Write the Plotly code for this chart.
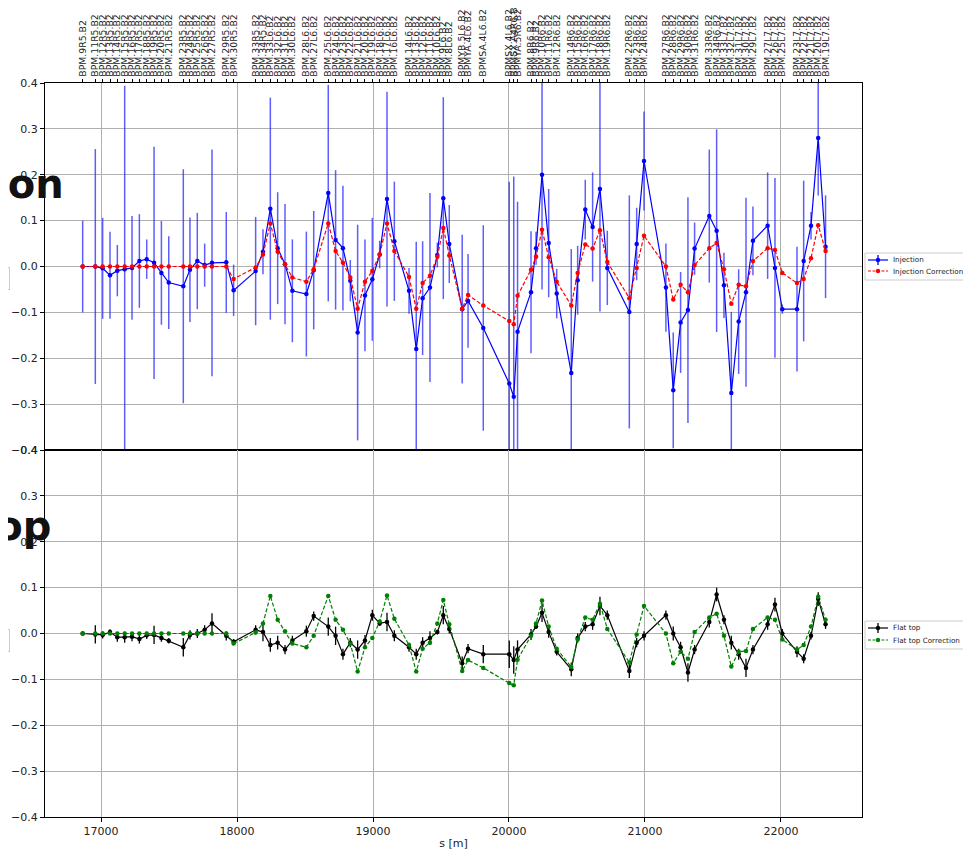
import plotly.graph_objects as go

# ---------------- data ----------------
s_pos = [16865, 16958, 17012, 17066, 17120, 17174, 17228, 17282, 17336, 17390, 17444, 17498,
         17605, 17654, 17708, 17762, 17816, 17921, 17975,
         18137, 18191, 18245, 18299, 18353, 18407, 18510, 18564,
         18671, 18725, 18779, 18833, 18887, 18941, 18995, 19049, 19103, 19157,
         19265, 19318, 19365, 19419, 19473, 19517, 19561,
         19656, 19699, 19811, 20002, 20035, 20063,
         20162, 20199, 20243, 20292, 20351,
         20458, 20505, 20561, 20615, 20669, 20723,
         20885, 20939, 20993,
         21154, 21208, 21262, 21316, 21365,
         21473, 21527, 21581, 21635, 21689, 21743, 21794,
         21902, 21956, 22010,
         22118, 22167, 22221, 22274, 22328]

bpm_names = ["BPM.9R5.B2", "BPM.11R5.B2", "BPM.12R5.B2", "BPM.13R5.B2", "BPM.14R5.B2", "BPM.15R5.B2",
             "BPM.16R5.B2", "BPM.17R5.B2", "BPM.18R5.B2", "BPM.19R5.B2", "BPM.20R5.B2", "BPM.21R5.B2",
             "BPM.23R5.B2", "BPM.24R5.B2", "BPM.25R5.B2", "BPM.26R5.B2", "BPM.27R5.B2",
             "BPM.29R5.B2", "BPM.30R5.B2",
             "BPM.33R5.B2", "BPM.34R5.B2", "BPM.33L6.B2", "BPM.32L6.B2", "BPM.31L6.B2", "BPM.30L6.B2",
             "BPM.28L6.B2", "BPM.27L6.B2",
             "BPM.25L6.B2", "BPM.24L6.B2", "BPM.23L6.B2", "BPM.22L6.B2", "BPM.21L6.B2", "BPM.20L6.B2",
             "BPM.19L6.B2", "BPM.18L6.B2", "BPM.17L6.B2", "BPM.16L6.B2",
             "BPM.14L6.B2", "BPM.13L6.B2", "BPM.12L6.B2", "BPM.11L6.B2", "BPM.10L6.B2", "BPM.9L6.B2",
             "BPM.8L6.B2",
             "BPMYB.5L6.B2", "BPMYA.4L6.B2", "BPMSA.4L6.B2", "BPMSX.4L6.B2", "BPMSX.A4R6.B2", "BPMYA.5R6.B2",
             "BPM.8R6.B2", "BPM.9R6.B2", "BPM.10R6.B2", "BPM.11R6.B2", "BPM.12R6.B2",
             "BPM.14R6.B2", "BPM.15R6.B2", "BPM.16R6.B2", "BPM.17R6.B2", "BPM.18R6.B2", "BPM.19R6.B2",
             "BPM.22R6.B2", "BPM.23R6.B2", "BPM.24R6.B2",
             "BPM.27R6.B2", "BPM.28R6.B2", "BPM.29R6.B2", "BPM.30R6.B2", "BPM.31R6.B2",
             "BPM.33R6.B2", "BPM.34R6.B2", "BPM.33L7.B2", "BPM.32L7.B2", "BPM.31L7.B2", "BPM.30L7.B2",
             "BPM.29L7.B2",
             "BPM.27L7.B2", "BPM.26L7.B2", "BPM.25L7.B2",
             "BPM.23L7.B2", "BPM.22L7.B2", "BPM.21L7.B2", "BPM.20L7.B2", "BPM.19L7.B2"]

injection = [0.0, 0.0, -0.004, -0.019, -0.009, -0.006, -0.003, 0.012, 0.016, 0.008, -0.014, -0.035,
             -0.043, -0.007, 0.012, 0.003, 0.008, 0.009, -0.052,
             -0.010, 0.032, 0.126, 0.040, 0.005, -0.053, -0.060, -0.008,
             0.160, 0.058, 0.040, -0.031, -0.144, -0.063, -0.028, 0.026, 0.147, 0.055,
             -0.053, -0.180, -0.069, -0.046, 0.025, 0.149, 0.049,
             -0.093, -0.075, -0.134, -0.255, -0.284, -0.142,
             -0.056, 0.040, 0.200, 0.051, -0.059,
             -0.232, -0.030, 0.124, 0.086, 0.169, -0.003,
             -0.099, 0.049, 0.230,
             -0.046, -0.270, -0.122, -0.095, 0.039,
             0.110, 0.078, -0.041, -0.276, -0.120, -0.056, 0.056,
             0.089, -0.003, -0.093,
             -0.093, 0.012, 0.089, 0.280, 0.043]

injection_err = [0.100, 0.256, 0.110, 0.095, 0.056, 0.400, 0.113, 0.102, 0.043, 0.253, 0.113, 0.101,
                 0.255, 0.114, 0.105, 0.047, 0.247, 0.110, 0.056,
                 0.118, 0.049, 0.242, 0.122, 0.131, 0.112, 0.136, 0.129,
                 0.236, 0.152, 0.136, 0.045, 0.235, 0.122, 0.134, 0.030, 0.234, 0.130,
                 0.050, 0.234, 0.124, 0.206, 0.027, 0.220, 0.085,
                 0.162, 0.102, 0.224, 0.440, 0.480, 0.283,
                 0.133, 0.036, 0.250, 0.118, 0.054,
                 0.270, 0.075, 0.065, 0.119, 0.267, 0.081,
                 0.254, 0.079, 0.108,
                 0.096, 0.126, 0.110, 0.246, 0.057,
                 0.145, 0.221, 0.071, 0.177, 0.114, 0.206, 0.075,
                 0.116, 0.196, 0.010,
                 0.136, 0.175, 0.030, 0.125, 0.112]

injection_corr = [0.0, 0.0, 0.0, 0.0, 0.0, 0.0, 0.0, 0.0, 0.0, 0.0, 0.0, 0.0,
                  0.0, 0.0, 0.0, 0.0, 0.0, 0.0, -0.027,
                  -0.002, 0.026, 0.094, 0.032, 0.005, -0.024, -0.033, -0.006,
                  0.094, 0.034, 0.008, -0.024, -0.092, -0.033, -0.010, 0.026, 0.094, 0.034,
                  -0.023, -0.092, -0.036, -0.020, 0.021, 0.084, 0.024,
                  -0.092, -0.062, -0.085, -0.119, -0.126, -0.064,
                  -0.007, 0.021, 0.080, 0.020, -0.033,
                  -0.085, -0.014, 0.048, 0.039, 0.079, 0.010,
                  -0.069, -0.003, 0.067,
                  0.000, -0.072, -0.040, -0.056, 0.003,
                  0.040, 0.051, -0.006, -0.081, -0.040, -0.043, 0.012,
                  0.040, 0.036, -0.014,
                  -0.036, -0.027, 0.018, 0.090, 0.034]

flattop = [0.000, -0.002, -0.003, 0.003, -0.008, -0.008, -0.007, -0.012, -0.004, -0.003, -0.010, -0.016,
           -0.030, -0.003, 0.000, 0.008, 0.022, -0.005, -0.018,
           0.008, 0.003, -0.025, -0.020, -0.035, -0.015, 0.005, 0.038,
           0.015, -0.005, -0.045, -0.020, -0.035, -0.015, 0.040, 0.022, 0.025, -0.005,
           -0.030, -0.045, -0.020, -0.010, 0.003, 0.040, 0.010,
           -0.065, -0.033, -0.045, -0.045, -0.058, -0.035,
           -0.002, 0.015, 0.045, 0.003, -0.040,
           -0.078, -0.010, 0.015, 0.020, 0.060, 0.040,
           -0.082, -0.020, -0.005,
           0.040, 0.000, -0.030, -0.085, -0.035,
           0.025, 0.085, 0.030, -0.020, -0.045, -0.075, -0.035,
           0.020, 0.063, 0.000,
           -0.040, -0.055, -0.005, 0.075, 0.020]

flattop_err = [0.000, 0.020, 0.008, 0.006, 0.010, 0.012, 0.010, 0.010, 0.008, 0.020, 0.008, 0.006,
               0.020, 0.010, 0.010, 0.010, 0.022, 0.010, 0.006,
               0.010, 0.020, 0.015, 0.015, 0.010, 0.010, 0.012, 0.010,
               0.020, 0.020, 0.012, 0.010, 0.020, 0.012, 0.012, 0.005, 0.020, 0.012,
               0.010, 0.012, 0.012, 0.015, 0.005, 0.020, 0.010,
               0.015, 0.010, 0.020, 0.030, 0.030, 0.020,
               0.012, 0.005, 0.020, 0.012, 0.008,
               0.015, 0.010, 0.010, 0.012, 0.020, 0.010,
               0.015, 0.010, 0.010,
               0.010, 0.015, 0.012, 0.020, 0.010,
               0.012, 0.015, 0.010, 0.015, 0.012, 0.020, 0.010,
               0.012, 0.015, 0.010,
               0.012, 0.010, 0.008, 0.015, 0.010]

flattop_corr = [0.0, 0.0, 0.0, 0.0, 0.0, 0.0, 0.0, 0.0, 0.0, 0.0, 0.0, 0.0,
                0.0, 0.0, 0.0, 0.0, 0.0, 0.0, -0.022,
                0.002, 0.022, 0.082, 0.030, 0.005, -0.022, -0.030, -0.005,
                0.082, 0.030, 0.008, -0.022, -0.083, -0.030, -0.010, 0.026, 0.083, 0.032,
                -0.025, -0.083, -0.033, -0.020, 0.022, 0.073, 0.020,
                -0.082, -0.058, -0.075, -0.108, -0.113, -0.057,
                -0.005, 0.022, 0.072, 0.015, -0.033,
                -0.073, -0.013, 0.035, 0.030, 0.065, 0.010,
                -0.063, -0.002, 0.060,
                0.000, -0.065, -0.040, -0.055, 0.003,
                0.035, 0.043, -0.005, -0.072, -0.040, -0.038, 0.010,
                0.035, 0.030, -0.013,
                -0.035, -0.025, 0.015, 0.080, 0.030]

y_ticks = [-0.4, -0.3, -0.2, -0.1, 0.0, 0.1, 0.2, 0.3, 0.4]
x_ticks = [17000, 18000, 19000, 20000, 21000, 22000]

# ---------------- figure ----------------
# The page body has an 8px margin, so the figure is sized/offset to land on the
# same page pixels as the reference.
FONT = "DejaVu Sans"
OFF = 8
W, H = 971 - OFF, 853 - OFF
L, R, T, B = 45 - OFF, 109, 83 - OFF, 36
PW = W - L - R
PH = H - T - B


def px_x(page_px):
    return (page_px - OFF - L) / PW


def px_y(page_py):
    return (H - B - (page_py - OFF)) / PH


fig = go.Figure()

fig.add_trace(go.Scatter(
    x=s_pos, y=injection, mode="lines+markers", name="Injection",
    line=dict(color="blue", width=1.2), marker=dict(color="blue", size=4.5),
    error_y=dict(type="data", array=injection_err, color="rgba(40,40,255,0.75)", thickness=1.5, width=0),
    xaxis="x", yaxis="y"))
fig.add_trace(go.Scatter(
    x=s_pos, y=injection_corr, mode="lines+markers", name="Injection Correction",
    line=dict(color="red", width=1.2, dash="4px,2px"), marker=dict(color="red", size=4.5),
    xaxis="x", yaxis="y"))

fig.add_trace(go.Scatter(
    x=s_pos, y=flattop, mode="lines+markers", name="Flat top",
    line=dict(color="black", width=1.2), marker=dict(color="black", size=4.5),
    error_y=dict(type="data", array=flattop_err, color="black", thickness=1.3, width=0),
    xaxis="x2", yaxis="y2"))
fig.add_trace(go.Scatter(
    x=s_pos, y=flattop_corr, mode="lines+markers", name="Flat top Correction",
    line=dict(color="green", width=1.2, dash="4px,2px"), marker=dict(color="green", size=4.5),
    xaxis="x2", yaxis="y2"))

# invisible carrier for the BPM-name axis on top
fig.add_trace(go.Scatter(
    x=s_pos, y=[0.0] * len(s_pos), mode="markers", marker=dict(opacity=0),
    showlegend=False, hoverinfo="skip", xaxis="x3", yaxis="y"))

xr = [16588, 22596]
common_axis = dict(showline=True, linecolor="black", linewidth=1, mirror=True,
                   showgrid=True, gridcolor="#b0b0b0", gridwidth=1, zeroline=False,
                   ticks="outside", ticklen=4, tickcolor="black", automargin=False,
                   tickfont=dict(family=FONT, size=11, color="#222"))

fig.update_layout(
    width=W, height=H,
    margin=dict(l=L, r=R, t=T, b=B, autoexpand=False),
    paper_bgcolor="white", plot_bgcolor="white",
    font=dict(family=FONT, size=11, color="#222"),
    showlegend=False,
    xaxis=dict(common_axis, range=xr, anchor="y", tickvals=x_ticks, showticklabels=False, ticks=""),
    yaxis=dict(common_axis, domain=[0.5, 1.0], range=[-0.4, 0.4], tickvals=y_ticks,
               tickformat=".1f"),
    xaxis2=dict(common_axis, range=xr, anchor="y2", matches="x", tickvals=x_ticks, tickformat="d",
                title=dict(text="s [m]", font=dict(family=FONT, size=11), standoff=2)),
    yaxis2=dict(common_axis, domain=[0.0, 0.5], range=[-0.4, 0.4], tickvals=y_ticks,
                tickformat=".1f"),
    xaxis3=dict(overlaying="x", side="top", anchor="y", range=xr, matches="x",
                tickvals=s_pos, ticktext=bpm_names, tickangle=-90, automargin=False,
                ticks="outside", ticklen=3.5, tickcolor="black", showgrid=False, zeroline=False,
                showline=False, tickfont=dict(family=FONT, size=9.3, color="#222")),
)

# ---- legend boxes drawn to the right of each panel (matplotlib-style) ----
def legend_box(top, bottom, entries):
    fig.add_shape(type="rect", xref="paper", yref="paper",
                  x0=px_x(865), x1=px_x(968), y0=px_y(bottom), y1=px_y(top),
                  line=dict(color="#cccccc", width=1), fillcolor="white", layer="above")
    for y_pg, color, dash, errbar, label in entries:
        fig.add_shape(type="line", xref="paper", yref="paper",
                      x0=px_x(868), x1=px_x(888), y0=px_y(y_pg), y1=px_y(y_pg),
                      line=dict(color=color, width=1.2, dash=dash), layer="above")
        if errbar:
            fig.add_shape(type="line", xref="paper", yref="paper",
                          xsizemode="pixel", ysizemode="pixel",
                          xanchor=px_x(878), yanchor=px_y(y_pg),
                          x0=0, x1=0, y0=-5, y1=5,
                          line=dict(color=color, width=1.3), layer="above")
        fig.add_shape(type="circle", xref="paper", yref="paper",
                      xsizemode="pixel", ysizemode="pixel",
                      xanchor=px_x(878), yanchor=px_y(y_pg),
                      x0=-2.2, x1=2.2, y0=-2.2, y1=2.2,
                      line=dict(color=color, width=0), fillcolor=color, layer="above")
        fig.add_annotation(text=label, xref="paper", yref="paper", x=px_x(892), y=px_y(y_pg),
                           xanchor="left", yanchor="middle", showarrow=False, borderpad=0,
                           font=dict(family=FONT, size=7.2, color="#222"))


legend_box(253, 280, [(260, "blue", "solid", True, "Injection"),
                      (271, "red", "3px,1.5px", False, "Injection Correction")])
legend_box(621, 649, [(628, "black", "solid", True, "Flat top"),
                      (640, "green", "3px,1.5px", False, "Flat top Correction")])

# big clipped panel titles and partially visible legends on the left edge
fig.add_annotation(text="<b>Injection</b>", xref="paper", yref="paper", x=px_x(65), y=px_y(184),
                   xanchor="right", yanchor="middle", showarrow=False, borderpad=0,
                   font=dict(family=FONT, size=40, color="#111"))
fig.add_annotation(text="<b>Flat top</b>", xref="paper", yref="paper", x=px_x(52), y=px_y(526),
                   xanchor="right", yanchor="middle", showarrow=False, borderpad=0,
                   font=dict(family=FONT, size=40, color="#111"))
fig.add_annotation(text="Injection", xref="paper", yref="paper", x=px_x(10), y=px_y(278),
                   xanchor="right", yanchor="middle", showarrow=False, borderpad=6,
                   bordercolor="#cccccc", borderwidth=1, bgcolor="white",
                   font=dict(family=FONT, size=8))
fig.add_annotation(text="Flat top Correction", xref="paper", yref="paper", x=px_x(10), y=px_y(640),
                   xanchor="right", yanchor="middle", showarrow=False, borderpad=6,
                   bordercolor="#cccccc", borderwidth=1, bgcolor="white",
                   font=dict(family=FONT, size=8))

fig.write_html("out.html")
